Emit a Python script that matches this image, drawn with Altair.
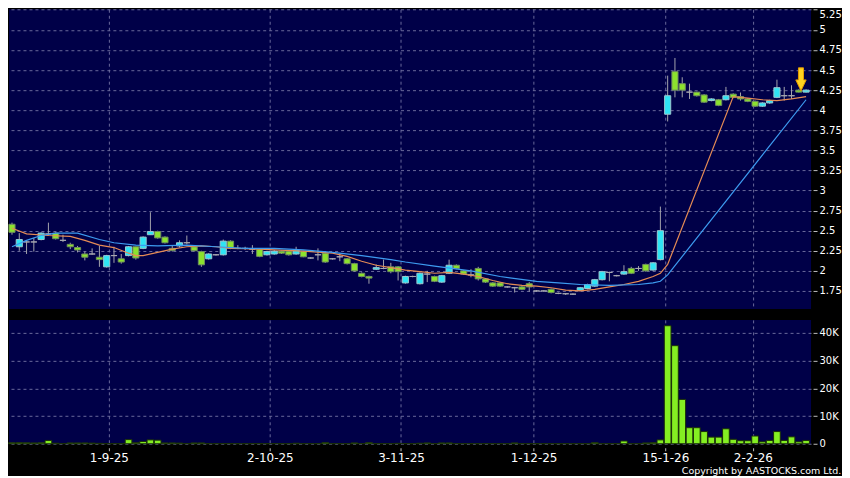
import altair as alt
import pandas as pd

# ---------------- data ----------------
opens = [2.58, 2.30, 2.36, 2.36, 2.39, 2.46, 2.47, 2.38, 2.33, 2.29,
         2.21, 2.21, 2.17, 2.05, 2.19, 2.15, 2.19, 2.30, 2.28, 2.45,
         2.49, 2.42, 2.28, 2.31, 2.35, 2.30, 2.24, 2.15, 2.20, 2.20,
         2.37, 2.28, 2.28, 2.27, 2.27, 2.20, 2.21, 2.245, 2.245, 2.21,
         2.245, 2.16, 2.20, 2.22, 2.15, 2.175, 2.15, 2.09, 1.97, 1.93,
         2.02, 2.03, 2.05, 2.05, 1.85, 1.93, 1.84, 1.96, 1.93, 1.86,
         1.97, 2.07, 2.00, 1.95, 2.03, 1.90, 1.85, 1.85, 1.80, 1.79,
         1.80, 1.84, 1.75, 1.75, 1.77, 1.72, 1.715, 1.71, 1.755, 1.78,
         1.81, 1.89, 1.98, 1.94, 1.96, 2.03, 2.03, 2.08, 2.01, 2.14,
         3.95, 4.48, 4.33, 4.225, 4.225, 4.19, 4.12, 4.13, 4.13, 4.20,
         4.17, 4.14, 4.11, 4.05, 4.09, 4.16, 4.18, 4.18, 4.25, 4.225]
closes = [2.48, 2.39, 2.36, 2.36, 2.47, 2.46, 2.40, 2.38, 2.30, 2.26,
          2.17, 2.21, 2.14, 2.19, 2.19, 2.11, 2.30, 2.16, 2.42, 2.49,
          2.41, 2.35, 2.255, 2.35, 2.35, 2.25, 2.075, 2.21, 2.20, 2.37,
          2.28, 2.28, 2.28, 2.27, 2.18, 2.24, 2.245, 2.22, 2.20, 2.26,
          2.175, 2.16, 2.20, 2.11, 2.15, 2.175, 2.09, 2.00, 1.93, 1.91,
          2.04, 2.03, 1.99, 1.99, 1.93, 1.93, 1.97, 1.96, 1.87, 1.94,
          2.07, 2.03, 1.96, 1.95, 1.90, 1.86, 1.81, 1.81, 1.80, 1.79,
          1.77, 1.80, 1.75, 1.75, 1.73, 1.72, 1.715, 1.71, 1.79, 1.83,
          1.89, 1.99, 1.98, 1.94, 1.99, 1.97, 2.03, 2.00, 2.10, 2.50,
          4.18, 4.25, 4.25, 4.225, 4.18, 4.10, 4.14, 4.06, 4.18, 4.16,
          4.14, 4.11, 4.05, 4.09, 4.12, 4.28, 4.18, 4.18, 4.225, 4.25]
highs = [2.60, 2.47, 2.37, 2.41, 2.48, 2.60, 2.48, 2.45, 2.35, 2.31,
         2.24, 2.28, 2.31, 2.20, 2.30, 2.21, 2.31, 2.30, 2.43, 2.73,
         2.50, 2.43, 2.32, 2.38, 2.44, 2.32, 2.25, 2.22, 2.21, 2.39,
         2.38, 2.32, 2.30, 2.32, 2.28, 2.25, 2.26, 2.25, 2.25, 2.30,
         2.25, 2.17, 2.28, 2.24, 2.16, 2.22, 2.16, 2.10, 1.98, 1.94,
         2.08, 2.14, 2.10, 2.06, 1.94, 1.94, 1.98, 2.00, 1.94, 1.95,
         2.14, 2.08, 2.01, 2.02, 2.05, 1.91, 1.86, 1.86, 1.81, 1.80,
         1.81, 1.86, 1.76, 1.76, 1.78, 1.73, 1.72, 1.72, 1.80, 1.84,
         1.90, 2.00, 1.99, 1.95, 2.07, 2.05, 2.06, 2.09, 2.11, 2.80,
         4.43, 4.65, 4.41, 4.33, 4.23, 4.20, 4.15, 4.14, 4.29, 4.21,
         4.22, 4.15, 4.12, 4.10, 4.13, 4.38, 4.29, 4.31, 4.26, 4.26]
lows = [2.45, 2.25, 2.21, 2.24, 2.38, 2.44, 2.39, 2.36, 2.27, 2.23,
        2.13, 2.20, 2.05, 2.04, 2.10, 2.09, 2.18, 2.14, 2.27, 2.45,
        2.40, 2.34, 2.24, 2.29, 2.33, 2.24, 2.05, 2.14, 2.19, 2.19,
        2.27, 2.27, 2.26, 2.21, 2.17, 2.19, 2.20, 2.21, 2.19, 2.20,
        2.17, 2.15, 2.13, 2.10, 2.14, 2.12, 2.08, 1.99, 1.92, 1.84,
        2.01, 2.02, 1.97, 1.88, 1.84, 1.92, 1.83, 1.86, 1.86, 1.85,
        1.96, 2.02, 1.95, 1.92, 1.88, 1.85, 1.80, 1.80, 1.79, 1.73,
        1.76, 1.74, 1.74, 1.74, 1.72, 1.71, 1.70, 1.70, 1.75, 1.77,
        1.80, 1.88, 1.87, 1.93, 1.95, 1.96, 2.00, 1.99, 2.00, 2.13,
        3.86, 4.16, 4.16, 4.14, 4.17, 4.09, 4.11, 4.05, 4.12, 4.15,
        4.12, 4.10, 4.04, 4.04, 4.08, 4.15, 4.12, 4.14, 4.22, 4.22]
volumes = [350, 400, 350, 300, 350, 1200, 200, 100, 300, 300,
           300, 250, 150, 100, 100, 100, 1500, 400, 800, 1400,
           1300, 300, 300, 250, 100, 300, 300, 100, 50, 100,
           100, 50, 50, 100, 100, 50, 80, 50, 50, 200,
           50, 80, 50, 400, 50, 80, 50, 300, 80, 400,
           50, 80, 50, 150, 80, 50, 200, 300, 80, 300,
           300, 80, 50, 80, 50, 80, 50, 80, 50, 300,
           50, 80, 50, 50, 80, 50, 80, 50, 80, 50,
           400, 50, 80, 100, 1000, 50, 80, 300, 400, 1400,
           42600, 35400, 16000, 5800, 5800, 4400, 2400, 2400, 5400, 1600,
           1100, 1100, 2800, 700, 1200, 4400, 1200, 2500, 700, 1200]

ma10_idx = [0, 2, 5, 8, 10, 12, 14, 16, 17, 18, 20, 22, 24, 26, 28, 30, 32, 34, 36, 40,
            44, 46, 48, 50, 52, 54, 56, 58, 60, 62, 64, 66, 68, 70, 72, 74, 76, 78, 80,
            82, 84, 86, 88, 89, 90, 99, 101, 103, 105, 107, 109]
ma10_val = [2.53, 2.46, 2.44, 2.43, 2.38, 2.32, 2.29, 2.22, 2.19, 2.19, 2.23, 2.27, 2.30,
            2.31, 2.30, 2.28, 2.275, 2.27, 2.26, 2.245, 2.22, 2.18, 2.12, 2.07, 2.04, 2.01,
            1.99, 1.97, 1.98, 1.96, 1.93, 1.88, 1.84, 1.82, 1.81, 1.79, 1.76, 1.75, 1.77,
            1.80, 1.83, 1.87, 1.93, 1.97, 2.08, 4.17, 4.15, 4.13, 4.12, 4.14, 4.17]
ma20_idx = [0, 2, 4, 6, 9, 12, 14, 17, 20, 24, 28, 32, 36, 40, 44, 48, 52, 54, 58, 63,
            67, 72, 75, 78, 82, 86, 88, 89, 90, 109]
ma20_val = [2.30, 2.38, 2.44, 2.47, 2.47, 2.39, 2.35, 2.32, 2.31, 2.32, 2.30, 2.28, 2.28,
            2.26, 2.23, 2.19, 2.14, 2.11, 2.06, 2.00, 1.93, 1.87, 1.85, 1.83, 1.82, 1.83,
            1.85, 1.87, 1.95, 4.13]

tick_pos = [13.3, 35.4, 53.4, 71.6, 89.7, 101.7]
tick_labels = ["1-9-25", "2-10-25", "3-11-25", "1-12-25", "15-1-26", "2-2-26"]
price_ticks = [1.75, 2, 2.25, 2.5, 2.75, 3, 3.25, 3.5, 3.75, 4, 4.25, 4.5, 4.75, 5, 5.25]
vol_ticks = [0, 10000, 20000, 30000, 40000]
marker_idx = [108.3]
marker_price = [4.384]

# ---------------- tables ----------------
candles = pd.DataFrame({"i": list(range(len(opens))), "o": opens, "h": highs,
                        "l": lows, "c": closes, "v": volumes})
ma10 = pd.DataFrame({"i": ma10_idx, "p": ma10_val})
ma20 = pd.DataFrame({"i": ma20_idx, "p": ma20_val})
marker = pd.DataFrame({"i": marker_idx, "p": marker_price})

# ---------------- styling ----------------
NAVY = "#000048"
GRID = "#7474A4"
PW, PH, VH = 803, 300, 124

xscale = alt.Scale(domain=[-0.41, 109.68], nice=False, zero=False)
pscale = alt.Scale(domain=[1.5262, 5.2562], nice=False, zero=False)
vscale = alt.Scale(domain=[0, 44700], nice=False, zero=True)

label_expr_x = " : ".join(
    f"datum.value == {p} ? '{t}'" for p, t in zip(tick_pos, tick_labels)) + " : ''"

grid_kw = dict(grid=True, gridColor=GRID, gridDash=[3, 3], gridWidth=1, gridOpacity=0.9)

x_axis_price = alt.Axis(values=tick_pos, labels=False, ticks=False, domain=False,
                        title=None, **grid_kw)
y_axis_price = alt.Axis(orient="right", values=price_ticks,
                        labelExpr="format(datum.value, '~g')", offset=2, tickSize=4,
                        tickColor="#BDBDBD", domain=False, title=None, labelColor="white",
                        labelFont="DejaVu Sans", labelFontSize=10, labelPadding=2,
                        labelFlush=2, **grid_kw)
x_axis_vol = alt.Axis(values=tick_pos, labelExpr=label_expr_x, offset=4, tickSize=3,
                      tickColor="#BDBDBD", domain=False, title=None, labelColor="white",
                      labelFont="DejaVu Sans", labelFontSize=12, labelPadding=2,
                      labelFlush=False, labelOverlap=False, **grid_kw)
y_axis_vol = alt.Axis(orient="right", values=vol_ticks,
                      labelExpr="datum.value == 0 ? '0' : format(datum.value / 1000, 'd') + 'K'",
                      offset=2, tickSize=4, tickColor="#BDBDBD", domain=False, title=None,
                      labelColor="white", labelFont="DejaVu Sans", labelFontSize=10,
                      labelPadding=2, labelFlush=False, **grid_kw)

dir_scale_fill = alt.Scale(domain=["up", "down", "flat"], range=["#2FE4F4", "#8CE22E", "#A8A8B0"])
dir_scale_stroke = alt.Scale(domain=["up", "down", "flat"], range=["#9CC8D0", "#6E8E5E", "#A8A8B0"])

base = alt.Chart(candles).transform_calculate(
    lo="datum.i - 0.42", hi="datum.i + 0.42",
    vlo="datum.i - 0.46", vhi="datum.i + 0.46",
    dir="datum.c > datum.o ? 'up' : (datum.c < datum.o ? 'down' : 'flat')",
)

wicks = base.mark_rule(color="#A4A4AC", strokeWidth=1).encode(
    x=alt.X("i:Q", scale=xscale, axis=x_axis_price),
    y=alt.Y("l:Q", scale=pscale, axis=y_axis_price),
    y2="h:Q",
)
bodies = base.mark_bar(strokeWidth=1).encode(
    x=alt.X("lo:Q", scale=xscale, axis=x_axis_price),
    x2="hi:Q",
    y=alt.Y("o:Q", scale=pscale, axis=y_axis_price),
    y2="c:Q",
    fill=alt.Fill("dir:N", scale=dir_scale_fill, legend=None),
    stroke=alt.Stroke("dir:N", scale=dir_scale_stroke, legend=None),
)
line10 = alt.Chart(ma10).mark_line(color="#E58B55", strokeWidth=1.2).encode(
    x=alt.X("i:Q", scale=xscale, axis=x_axis_price),
    y=alt.Y("p:Q", scale=pscale, axis=y_axis_price),
)
line20 = alt.Chart(ma20).mark_line(color="#3D9BF0", strokeWidth=1.2).encode(
    x=alt.X("i:Q", scale=xscale, axis=x_axis_price),
    y=alt.Y("p:Q", scale=pscale, axis=y_axis_price),
)
arrow_path = "M-0.22,-1 L0.22,-1 L0.22,0.05 L0.45,0.05 L0,1 L-0.45,0.05 L-0.22,0.05 Z"
arrow = alt.Chart(marker).mark_point(shape=arrow_path, size=529, filled=True,
                                     fill="#FFD320", stroke="#E39A00", strokeWidth=1,
                                     opacity=1).encode(
    x=alt.X("i:Q", scale=xscale, axis=x_axis_price),
    y=alt.Y("p:Q", scale=pscale, axis=y_axis_price),
)

price = alt.layer(wicks, bodies, line10, line20, arrow).properties(width=PW, height=PH)

vol = base.mark_bar(fill="#84EE22", stroke="#1A2E08", strokeWidth=1).encode(
    x=alt.X("vlo:Q", scale=xscale, axis=x_axis_vol),
    x2="vhi:Q",
    y=alt.Y("v:Q", scale=vscale, axis=y_axis_vol),
    y2=alt.datum(0),
).properties(width=PW, height=VH)

chart = alt.vconcat(price, vol, spacing=11).properties(
    padding={"left": 0, "top": 0, "right": 0, "bottom": 0},
    title=alt.TitleParams("Copyright by AASTOCKS.com Ltd.", orient="bottom", anchor="end",
                          color="white", font="DejaVu Sans", fontSize=9.5,
                          fontWeight="normal", offset=2, frame="bounds"),
).configure(background="#000000").configure_view(fill=NAVY, stroke=None)

chart.save("out.html", embed_options={"renderer": "svg", "actions": False})
